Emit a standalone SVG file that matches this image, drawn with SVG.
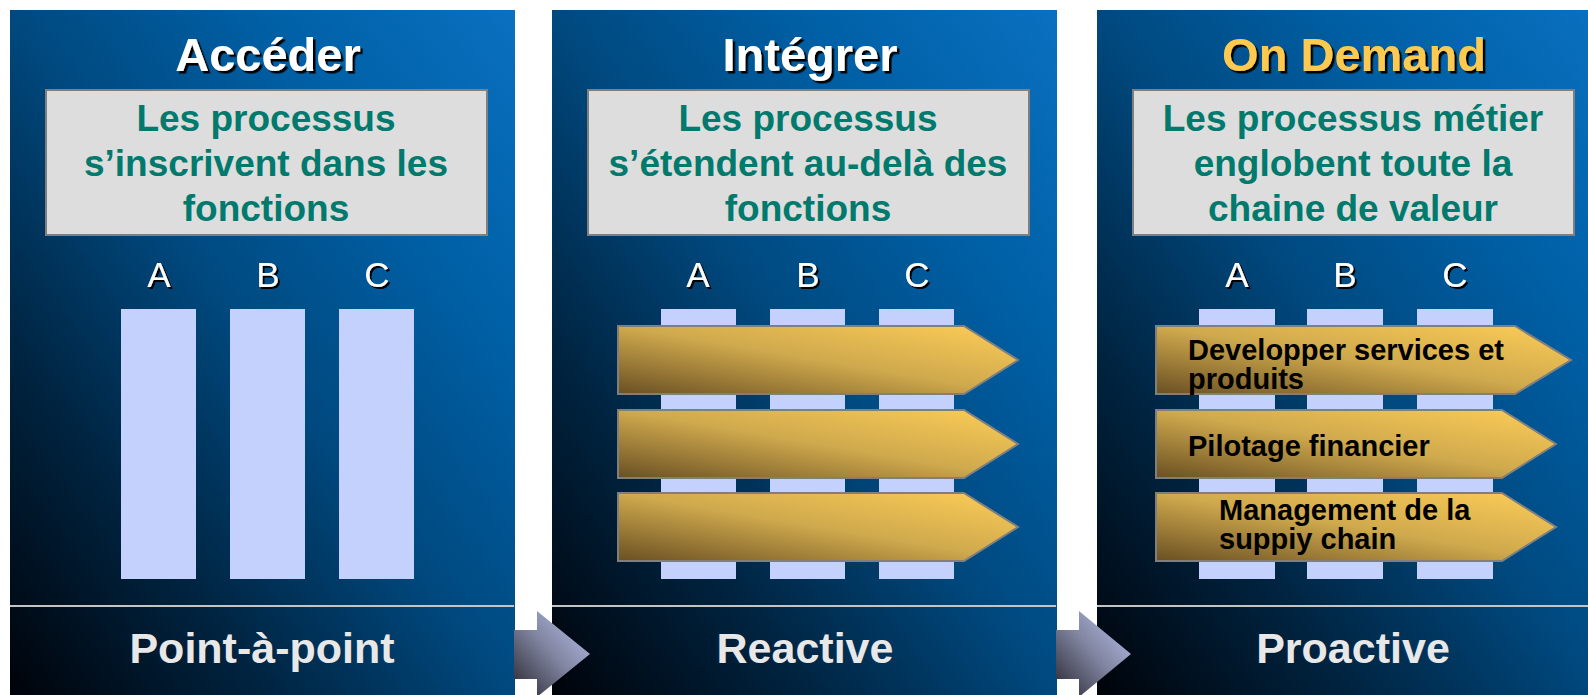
<svg xmlns="http://www.w3.org/2000/svg" width="1588" height="695" viewBox="0 0 1588 695">
<defs>
<linearGradient id="gPanel" x1="0" y1="1" x2="1" y2="0">
<stop offset="0" stop-color="#000309"/>
<stop offset="0.25" stop-color="#00233f"/>
<stop offset="0.5" stop-color="#00497f"/>
<stop offset="0.75" stop-color="#0060a6"/>
<stop offset="1" stop-color="#0a70c0"/>
</linearGradient>
<linearGradient id="gGold" x1="0" y1="1" x2="1" y2="0">
<stop offset="0" stop-color="#6a5023"/>
<stop offset="0.5" stop-color="#cfa94d"/>
<stop offset="1" stop-color="#fdcd57"/>
</linearGradient>
<linearGradient id="gConn" x1="0" y1="1" x2="1" y2="0">
<stop offset="0" stop-color="#26242f"/>
<stop offset="0.5" stop-color="#80849f"/>
<stop offset="1" stop-color="#bcc6f4"/>
</linearGradient>
<filter id="shadow" x="-10%" y="-20%" width="130%" height="150%">
<feDropShadow dx="2.5" dy="2.5" stdDeviation="0" flood-color="#000" flood-opacity="1"/>
</filter>
<filter id="shadowSm" x="-10%" y="-20%" width="130%" height="150%">
<feDropShadow dx="2" dy="2" stdDeviation="0" flood-color="#000" flood-opacity="1"/>
</filter>
</defs>
<style>
.bg{fill:url(#gPanel)}
.sep{stroke:#c4c4c4;stroke-width:2}
.title{font-family:"Liberation Sans",Arial,sans-serif;font-weight:bold;font-size:47px;text-anchor:middle;fill:#ffffff;filter:url(#shadow)}
.title.y{fill:#fdca4f}
.box{fill:#dddddd;stroke:#7f7f7f;stroke-width:2}
.desc{font-family:"Liberation Sans",Arial,sans-serif;font-weight:bold;font-size:37px;text-anchor:middle;fill:#007a6d}
.abc{font-family:"Liberation Sans",Arial,sans-serif;font-size:35px;text-anchor:middle;fill:#ffffff;filter:url(#shadowSm)}
.col{fill:#c5d1fd}
.gold{fill:url(#gGold);stroke:#7f7f7f;stroke-width:2}
.gtxt{font-family:"Liberation Sans",Arial,sans-serif;font-weight:bold;font-size:29px;fill:#000000}
.lbl{font-family:"Liberation Sans",Arial,sans-serif;font-weight:bold;font-size:43px;text-anchor:middle;fill:#e8e8e8}
.conn{fill:url(#gConn)}
</style>
<rect width="1588" height="695" fill="#ffffff"/>

<g id="panel-acceder">
<rect class="bg" x="10" y="10" width="505" height="685"/>
<line class="sep" x1="10" y1="606" x2="514" y2="606"/>
<text class="title" x="268" y="71">Accéder</text>
<rect class="box" x="46" y="90" width="441" height="145"/>
<text class="desc" x="266" y="131">Les processus</text>
<text class="desc" x="266" y="176">s’inscrivent dans les</text>
<text class="desc" x="266" y="221">fonctions</text>
<text class="abc" x="159" y="287">A</text>
<text class="abc" x="268" y="287">B</text>
<text class="abc" x="377" y="287">C</text>
<rect class="col" x="121" y="309" width="75" height="270"/>
<rect class="col" x="230" y="309" width="75" height="270"/>
<rect class="col" x="339" y="309" width="75" height="270"/>
<text class="lbl" x="262" y="663">Point-à-point</text>
</g>

<g id="panel-integrer">
<rect class="bg" x="552" y="10" width="505" height="685"/>
<line class="sep" x1="552" y1="606" x2="1056" y2="606"/>
<text class="title" x="810" y="71">Intégrer</text>
<rect class="box" x="588" y="90" width="441" height="145"/>
<text class="desc" x="808" y="131">Les processus</text>
<text class="desc" x="808" y="176">s’étendent au-delà des</text>
<text class="desc" x="808" y="221">fonctions</text>
<text class="abc" x="698" y="287">A</text>
<text class="abc" x="808" y="287">B</text>
<text class="abc" x="917" y="287">C</text>
<rect class="col" x="661" y="309" width="75" height="270"/>
<rect class="col" x="770" y="309" width="75" height="270"/>
<rect class="col" x="879" y="309" width="75" height="270"/>
<polygon class="gold" points="618,326 964,326 1018,360 964,394 618,394"/>
<polygon class="gold" points="618,410 964,410 1018,444 964,478 618,478"/>
<polygon class="gold" points="618,493 964,493 1018,527 964,561 618,561"/>
<text class="lbl" x="805" y="663">Reactive</text>
</g>

<g id="panel-ondemand">
<rect class="bg" x="1097" y="10" width="505" height="685"/>
<line class="sep" x1="1097" y1="606" x2="1602" y2="606"/>
<text class="title y" x="1354" y="71">On Demand</text>
<rect class="box" x="1133" y="90" width="441" height="145"/>
<text class="desc" x="1353" y="131">Les processus métier</text>
<text class="desc" x="1353" y="176">englobent toute la</text>
<text class="desc" x="1353" y="221">chaine de valeur</text>
<text class="abc" x="1237" y="287">A</text>
<text class="abc" x="1345" y="287">B</text>
<text class="abc" x="1455" y="287">C</text>
<rect class="col" x="1199" y="309" width="76" height="270"/>
<rect class="col" x="1307" y="309" width="76" height="270"/>
<rect class="col" x="1417" y="309" width="76" height="270"/>
<polygon class="gold" points="1156,326 1515,326 1571,360 1515,394 1156,394"/>
<polygon class="gold" points="1156,410 1502,410 1556,444 1502,478 1156,478"/>
<polygon class="gold" points="1156,493 1502,493 1556,527 1502,561 1156,561"/>
<text class="gtxt" x="1188" y="360">Developper services et</text>
<text class="gtxt" x="1188" y="389">produits</text>
<text class="gtxt" x="1188" y="456">Pilotage financier</text>
<text class="gtxt" x="1219" y="520">Management de la</text>
<text class="gtxt" x="1219" y="549">suppiy chain</text>
<text class="lbl" x="1353" y="663">Proactive</text>
</g>

<g id="connectors">
<polygon class="conn" points="514,630 537,630 537,611 590,654 537,697 537,679 514,679"/>
<polygon class="conn" points="1056,630 1079,630 1079,611 1131,654 1079,697 1079,679 1056,679"/>
</g>
</svg>
